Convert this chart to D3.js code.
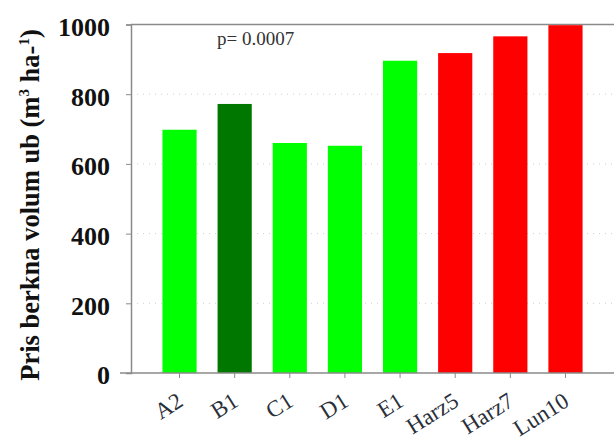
<!DOCTYPE html>
<html>
<head>
<meta charset="utf-8">
<script src="https://cdn.jsdelivr.net/npm/d3@7"></script>
<style>
  body { margin: 0; background: #fff; }
  svg { display: block; }
</style>
</head>
<body>
<svg id="chart" width="614" height="441"></svg>
<script>
var categories = ["A2", "B1", "C1", "D1", "E1", "Harz5", "Harz7", "Lun10"];
var values = [698, 772, 660, 652, 896, 918, 966, 998];
var barColors = ["#00ff00", "#007800", "#00ff00", "#00ff00", "#00ff00", "#ff0000", "#ff0000", "#ff0000"];
var yTicks = [0, 200, 400, 600, 800, 1000];
var gridTicks = [200, 400, 600, 800];

var svg = d3.select("svg#chart");
var serif = "'Liberation Serif', 'Times New Roman', serif";

var x = d3.scaleBand()
    .domain(categories)
    .range([131, 614])
    .paddingInner(0.38)
    .paddingOuter(0.57);

var y = d3.scaleLinear()
    .domain([0, 1000])
    .range([373, 24.5]);

// dotted grid
svg.selectAll("line.grid")
    .data(gridTicks).enter()
    .append("line")
    .attr("class", "grid")
    .attr("x1", 131).attr("x2", 614)
    .attr("y1", function(d){ return y(d); })
    .attr("y2", function(d){ return y(d); })
    .attr("stroke", "#d0d0d0")
    .attr("stroke-width", 1)
    .attr("stroke-dasharray", "1,5");

// top frame line
svg.append("line")
    .attr("x1", 131).attr("x2", 614)
    .attr("y1", y(1000)).attr("y2", y(1000))
    .attr("stroke", "#8a8a8a").attr("stroke-width", 1.5);

// bars
svg.selectAll("rect.bar")
    .data(categories).enter()
    .append("rect")
    .attr("class", "bar")
    .attr("x", function(d){ return x(d); })
    .attr("width", x.bandwidth())
    .attr("y", function(d, i){ return y(values[i]); })
    .attr("height", function(d, i){ return y(0) - y(values[i]); })
    .attr("fill", function(d, i){ return barColors[i]; });

// y axis
var yAxis = svg.append("g")
    .attr("transform", "translate(131,0)")
    .call(d3.axisLeft(y).tickValues(yTicks).tickFormat(d3.format("d")).tickSize(5).tickPadding(16));
yAxis.select(".domain").attr("stroke", "#8a8a8a").attr("stroke-width", 1.5);
yAxis.selectAll(".tick line").attr("stroke", "#8a8a8a");
yAxis.selectAll(".tick text")
    .attr("font-family", serif)
    .attr("font-weight", "bold")
    .attr("font-size", 26)
    .attr("fill", "#111")
    .attr("dy", "0.42em");

// x axis
var xAxis = svg.append("g")
    .attr("transform", "translate(0," + y(0) + ")")
    .call(d3.axisBottom(x).tickSize(5).tickSizeOuter(0));
xAxis.select(".domain").attr("stroke", "#8a8a8a").attr("stroke-width", 1.5)
    .attr("d", "M120,0H614");
xAxis.selectAll(".tick line").attr("stroke", "#8a8a8a");
xAxis.selectAll(".tick text")
    .attr("font-family", serif)
    .attr("font-size", 23)
    .attr("fill", "#2a2f3a")
    .attr("text-anchor", "end")
    .attr("x", 0).attr("y", 0).attr("dy", 0)
    .attr("transform", "translate(5,32) rotate(-32)");

// y axis title
var title = svg.append("text")
    .attr("transform", "translate(38.5,205) rotate(-90)")
    .attr("text-anchor", "middle")
    .attr("font-family", serif)
    .attr("font-weight", "bold")
    .attr("font-size", 26.5)
    .attr("fill", "#111");
title.append("tspan").text("Pris berkna volum ub (m");
title.append("tspan").attr("dy", -10).attr("font-size", 15).text("3");
title.append("tspan").attr("dy", 10).text(" ha-");
title.append("tspan").attr("dy", -10).attr("font-size", 15).text("1");
title.append("tspan").attr("dy", 10).text(")");

// p-value annotation
svg.append("text")
    .attr("x", 217).attr("y", 45)
    .attr("font-family", serif)
    .attr("font-size", 19)
    .attr("fill", "#333")
    .text("p= 0.0007");
</script>
</body>
</html>
